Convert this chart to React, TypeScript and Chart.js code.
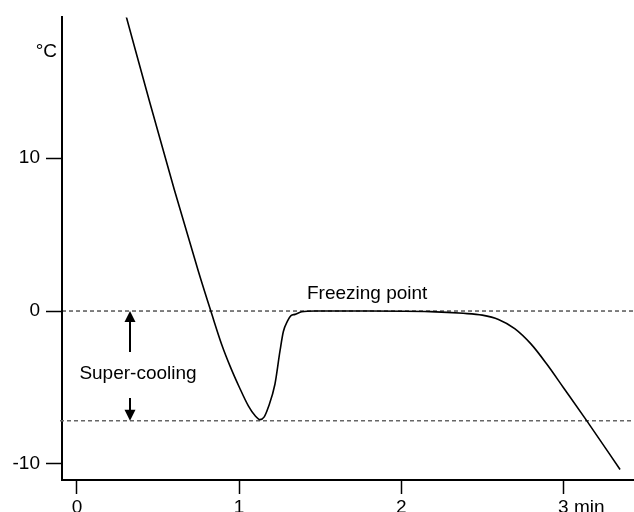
import React, { useEffect, useRef } from "react";
import { Chart, registerables } from "chart.js";

Chart.register(...registerables);

// Time (min) and temperature (°C) of the cooling curve
const timeMin = [
  0.28, 0.3, 0.45, 0.6, 0.75, 0.83, 0.893, 0.95, 1.0, 1.057, 1.099, 1.129,
  1.155, 1.18, 1.221, 1.252, 1.273, 1.299, 1.32, 1.345, 1.386, 1.468, 1.8, 2.178,
  2.383, 2.5, 2.6, 2.7, 2.8, 2.9, 3.0, 3.144, 3.35,
];
const tempC = [
  20.17, 19.4, 13.6, 7.95, 2.55, -0.15, -2.2, -3.75, -4.95, -6.2, -6.85, -7.1,
  -6.92, -6.3, -4.79, -2.63, -1.34, -0.65, -0.3, -0.22, -0.05, 0, 0, -0.04,
  -0.15, -0.27, -0.55, -1.15, -2.15, -3.5, -5.0, -7.17, -10.36,
];

const xTickValues = [0, 1, 2, 3];
const xTickLabels = ["0", "1", "2", "3"];
const yTickValues = [-10, 0, 10];
const yTickLabels = ["-10", "0", "10"];
const xUnit = "min";
const yUnit = "°C";

const freezingPoint = 0;
const superCoolingMin = -7.17;
const freezingLabel = "Freezing point";
const superCoolingLabel = "Super-cooling";

const FONT = '"Liberation Sans", Arial, sans-serif';
const FONT_SIZE = 19;
const X_TICK_LEN = 14;
const X_TICK_PAD = 2;

export default function App() {
  const ref = useRef<HTMLCanvasElement | null>(null);

  useEffect(() => {
    const canvas = ref.current;
    if (!canvas) return;

    const annotations = {
      id: "annotations",
      beforeDatasetsDraw(chart: any) {
        const ctx = chart.ctx;
        const ys = chart.scales.y;
        const area = chart.chartArea;
        ctx.save();
        const y0 = ys.getPixelForValue(freezingPoint);
        ctx.strokeStyle = "#000";
        ctx.lineWidth = 1;
        ctx.setLineDash([4, 3]);
        ctx.beginPath();
        ctx.moveTo(area.left, y0);
        ctx.lineTo(634, y0);
        ctx.stroke();
        const y1 = ys.getPixelForValue(superCoolingMin);
        ctx.strokeStyle = "#666";
        ctx.lineWidth = 1.5;
        ctx.beginPath();
        ctx.moveTo(area.left - 2, y1);
        ctx.lineTo(634, y1);
        ctx.stroke();
        ctx.restore();
      },
      afterDatasetsDraw(chart: any) {
        const ctx = chart.ctx;
        const xs = chart.scales.x;
        const ys = chart.scales.y;
        const area = chart.chartArea;
        ctx.save();
        ctx.fillStyle = "#000";
        ctx.strokeStyle = "#000";
        ctx.setLineDash([]);
        ctx.font = `${FONT_SIZE}px ${FONT}`;

        // unit labels
        ctx.textBaseline = "alphabetic";
        ctx.textAlign = "right";
        ctx.fillText(yUnit, area.left - 5, 56.5);
        const x3 = xs.getPixelForValue(xTickValues[xTickValues.length - 1]);
        const w3 = ctx.measureText(xTickLabels[xTickLabels.length - 1]).width;
        ctx.textAlign = "left";
        ctx.textBaseline = "middle";
        ctx.fillText(
          " " + xUnit,
          x3 + w3 / 2,
          xs.top + X_TICK_LEN + X_TICK_PAD + (FONT_SIZE * 1.2) / 2
        );

        // freezing point label
        ctx.textBaseline = "alphabetic";
        const y0 = ys.getPixelForValue(freezingPoint);
        const y1 = ys.getPixelForValue(superCoolingMin);
        ctx.textAlign = "left";
        ctx.fillText(freezingLabel, 307, y0 - 12);

        // super-cooling label and arrows
        const ax = 130;
        ctx.textAlign = "center";
        ctx.fillText(superCoolingLabel, 138, 379);
        ctx.lineWidth = 2;
        ctx.beginPath();
        ctx.moveTo(ax, 352);
        ctx.lineTo(ax, y0 + 8);
        ctx.stroke();
        ctx.beginPath();
        ctx.moveTo(ax, y0);
        ctx.lineTo(ax - 5.5, y0 + 11);
        ctx.lineTo(ax + 5.5, y0 + 11);
        ctx.closePath();
        ctx.fill();
        ctx.beginPath();
        ctx.moveTo(ax, 398);
        ctx.lineTo(ax, y1 - 8);
        ctx.stroke();
        ctx.beginPath();
        ctx.moveTo(ax, y1);
        ctx.lineTo(ax - 5.5, y1 - 11);
        ctx.lineTo(ax + 5.5, y1 - 11);
        ctx.closePath();
        ctx.fill();
        ctx.restore();
      },
    };

    const chart = new Chart(canvas, {
      type: "line",
      data: {
        datasets: [
          {
            data: timeMin.map((t, i) => ({ x: t, y: tempC[i] })),
            borderColor: "#000",
            borderWidth: 1.6,
            pointRadius: 0,
            fill: false,
            cubicInterpolationMode: "monotone",
          },
        ],
      },
      options: {
        responsive: false,
        animation: false,
        layout: { padding: { top: 12, right: 0, left: 0, bottom: 0 } },
        plugins: { legend: { display: false }, tooltip: { enabled: false } },
        scales: {
          x: {
            type: "linear",
            min: -0.0925,
            max: 3.436,
            afterBuildTicks: (scale: any) => {
              scale.ticks = xTickValues.map((v) => ({ value: v }));
            },
            afterFit: (scale: any) => {
              scale.height = 32;
            },
            ticks: {
              callback: (v: any) => {
                const i = xTickValues.indexOf(Number(v));
                return i >= 0 ? xTickLabels[i] : "";
              },
              color: "#000",
              font: { family: FONT, size: FONT_SIZE },
              padding: X_TICK_PAD,
              maxRotation: 0,
              autoSkip: false,
            },
            grid: {
              drawOnChartArea: false,
              drawTicks: true,
              tickLength: X_TICK_LEN,
              tickColor: "#000",
              tickWidth: 1.5,
            },
            border: { display: true, color: "#000", width: 2 },
          },
          y: {
            type: "linear",
            min: -11.05,
            max: 19.2,
            afterBuildTicks: (scale: any) => {
              scale.ticks = yTickValues.map((v) => ({ value: v }));
            },
            afterFit: (scale: any) => {
              scale.width = 62;
            },
            ticks: {
              callback: (v: any) => {
                const i = yTickValues.indexOf(Number(v));
                return i >= 0 ? yTickLabels[i] : "";
              },
              color: "#000",
              font: { family: FONT, size: FONT_SIZE },
              padding: 6,
              autoSkip: false,
            },
            grid: {
              drawOnChartArea: false,
              drawTicks: true,
              tickLength: 16,
              tickColor: "#000",
              tickWidth: 1.5,
            },
            border: { display: true, color: "#000", width: 2 },
          },
        },
      },
      plugins: [annotations],
    } as any);

    return () => chart.destroy();
  }, []);

  return (
    <div style={{ position: "fixed", left: 0, top: 0, width: 634, height: 512, background: "#fff" }}>
      <canvas ref={ref} width={634} height={512} />
    </div>
  );
}
